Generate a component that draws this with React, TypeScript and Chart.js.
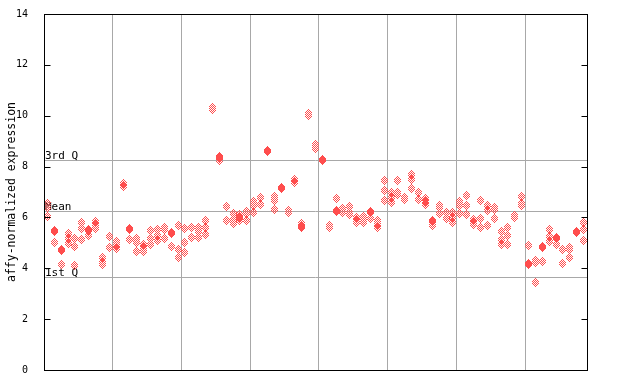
import { useEffect, useRef } from 'react';
import { Chart, registerables } from 'chart.js';

Chart.register(...registerables);

// Sample columns 0..78, each column holds replicate expression values
const expressionValues: number[][] = [
  [6.56, 6.40, 6.03], [5.47, 5.43, 5.03], [4.73, 4.69, 4.16], [5.37, 5.18, 4.98], [5.18, 4.86, 4.09],
  [5.82, 5.57, 5.15], [5.51, 5.47, 5.30], [5.83, 5.73, 5.57], [4.44, 4.23, 4.13], [5.26, 4.83],
  [5.05, 4.89, 4.77], [7.34, 7.21], [5.58, 5.54, 5.14], [5.18, 5.02, 4.67], [4.92, 4.81, 4.65],
  [5.47, 5.18, 4.92], [5.51, 5.30, 5.11], [5.61, 5.53, 5.18], [5.42, 5.38, 4.85], [5.69, 4.72, 4.43],
  [5.57, 5.02, 4.63], [5.61, 5.22], [5.61, 5.45, 5.22], [5.89, 5.61, 5.34], [10.33, 10.25],
  [8.38, 8.34, 8.22], [6.44, 5.89], [6.16, 5.93, 5.77], [6.12, 6.02, 5.98, 5.89], [6.24, 6.16, 5.89],
  [6.63, 6.48, 6.20], [6.79, 6.52], [8.64, 8.60], [6.83, 6.67, 6.32], [7.19, 7.15],
  [6.28, 6.20], [7.50, 7.38], [5.77, 5.64, 5.60], [10.09, 10.02], [8.85, 8.72],
  [8.26, 8.22], [5.69, 5.61], [6.75, 6.28, 6.24], [6.36, 6.28, 6.20], [6.44, 6.20, 6.12],
  [6.00, 5.89, 5.81], [6.04, 5.96, 5.81], [6.22, 6.18, 5.96], [5.89, 5.73, 5.61], [7.46, 7.07, 6.67],
  [6.99, 6.79, 6.59], [7.46, 6.99, 6.91], [6.79, 6.71], [7.70, 7.50, 7.15], [6.99, 6.71],
  [6.75, 6.63, 6.52], [5.87, 5.83, 5.69], [6.48, 6.40, 6.16], [6.20, 5.96], [6.20, 6.00, 5.81],
  [6.63, 6.48, 6.16], [6.87, 6.48, 6.12], [5.93, 5.81, 5.73], [6.67, 5.96, 5.61], [6.48, 6.28, 5.69],
  [6.40, 6.32, 5.96], [5.45, 5.14, 4.94], [5.61, 5.30, 4.94], [6.08, 6.00], [6.83, 6.56, 6.48],
  [4.90, 4.20, 4.16], [4.31, 4.23, 3.45], [4.87, 4.83, 4.27], [5.53, 5.26, 5.06], [5.22, 5.18, 4.94],
  [4.75, 4.20], [4.83, 4.75, 4.43], [5.44, 5.40], [5.82, 5.53, 5.10],
];

const groupBoundaries = [9.5, 19.5, 29.5, 39.5, 49.5, 59.5, 69.5];
const quartileLabels = ['3rd Q', 'Mean', '1st Q'];
const quartileValues = [8.26, 6.24, 3.645];
const yTitle = 'affy-normalized expression';

function toPoints(cols: number[][]) {
  const pts: { x: number; y: number }[] = [];
  cols.forEach((vals, i) => vals.forEach((v) => pts.push({ x: i, y: v })));
  return pts;
}

function makeDiamond(color: string) {
  const c = document.createElement('canvas');
  c.width = 7;
  c.height = 9;
  const ctx = c.getContext('2d')!;
  ctx.fillStyle = color;
  for (let y = 0; y < 9; y++) {
    for (let x = 0; x < 7; x++) {
      if (Math.abs(x - 3) / 3.5 + Math.abs(y - 4) / 4.5 <= 1.1 && (x + y) % 2 === 1) {
        ctx.fillRect(x, y, 1, 1);
      }
    }
  }
  return c;
}

const MONO = '"DejaVu Sans Mono", monospace';

const decorPlugin = {
  id: 'decor',
  beforeDatasetsDraw(chart: any) {
    const { ctx, chartArea } = chart;
    const ys = chart.scales.y;
    ctx.save();
    quartileValues.forEach((v, i) => {
      const py = Math.round(ys.getPixelForValue(v)) + 0.5;
      ctx.strokeStyle = '#a8a8a8';
      ctx.lineWidth = 1;
      ctx.beginPath();
      ctx.moveTo(chartArea.left, py);
      ctx.lineTo(chartArea.right, py);
      ctx.stroke();
      ctx.fillStyle = '#000';
      ctx.font = `11px ${MONO}`;
      ctx.textAlign = 'left';
      ctx.textBaseline = 'alphabetic';
      ctx.fillText(quartileLabels[i], chartArea.left + 1, py - 1.5);
    });
    ctx.restore();
    ctx.imageSmoothingEnabled = false;
  },
  afterDraw(chart: any) {
    const { ctx, chartArea } = chart;
    const ys = chart.scales.y;
    ctx.save();
    ctx.strokeStyle = '#000';
    ctx.lineWidth = 1;
    const l = Math.round(chartArea.left) + 0.5;
    const r = Math.round(chartArea.right) + 0.5;
    const t = Math.round(chartArea.top) + 0.5;
    const b = Math.round(chartArea.bottom) + 0.5;
    ctx.strokeRect(l, t, r - l, b - t);
    ys.ticks.forEach((tk: any) => {
      const py = Math.round(ys.getPixelForValue(tk.value)) + 0.5;
      ctx.beginPath();
      ctx.moveTo(l, py);
      ctx.lineTo(l + 6, py);
      ctx.moveTo(r, py);
      ctx.lineTo(r - 6, py);
      ctx.stroke();
    });
    ctx.fillStyle = '#000';
    ctx.font = `11.5px ${MONO}`;
    ctx.translate(12, (chartArea.top + chartArea.bottom) / 2);
    ctx.rotate(-Math.PI / 2);
    ctx.textAlign = 'center';
    ctx.textBaseline = 'middle';
    ctx.fillText(yTitle, 0, 0);
    ctx.restore();
  },
};

export default function App() {
  const ref = useRef<HTMLCanvasElement>(null);
  useEffect(() => {
    if (!ref.current) return;
    const redImg = makeDiamond('rgb(255,77,77)');
    const chart = new Chart(ref.current, {
      type: 'scatter',
      data: {
        datasets: [
          {
            label: 'expression',
            data: toPoints(expressionValues),
            pointStyle: redImg as any,
            pointRadius: 4,
          },
        ],
      },
      options: {
        animation: false,
        responsive: false,
        devicePixelRatio: 1,
        layout: { padding: { left: 0, top: 14, right: 53, bottom: 14 } },
        plugins: { legend: { display: false }, tooltip: { enabled: false } },
        scales: {
          x: {
            type: 'linear',
            min: -0.5,
            max: 78.5,
            afterBuildTicks: (s: any) => {
              s.ticks = groupBoundaries.map((v) => ({ value: v }));
            },
            afterFit: (s: any) => {
              s.height = 0;
            },
            ticks: { display: false },
            grid: { color: '#a8a8a8', drawTicks: false, lineWidth: 1 },
            border: { display: false },
          },
          y: {
            min: 0,
            max: 14,
            ticks: {
              stepSize: 2,
              color: '#000',
              padding: 8,
              font: { family: MONO, size: 10 },
            },
            grid: { display: false },
            border: { display: false },
            afterFit: (s: any) => {
              s.width = 44;
            },
          },
        },
      },
      plugins: [decorPlugin],
    });
    return () => chart.destroy();
  }, []);
  return (
    <div style={{ position: 'absolute', left: 0, top: 0, width: 640, height: 384, background: '#fff' }}>
      <canvas ref={ref} width={640} height={384} />
    </div>
  );
}
